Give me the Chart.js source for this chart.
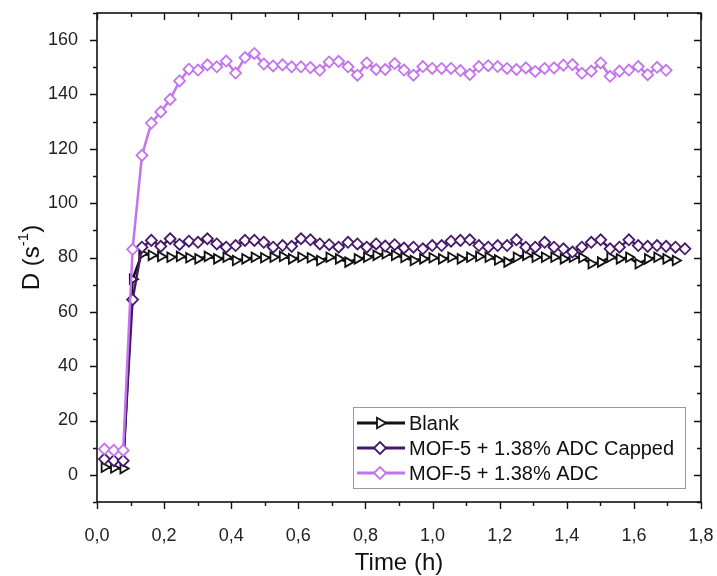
<!DOCTYPE html>
<html><head><meta charset="utf-8">
<script src="https://cdn.jsdelivr.net/npm/chart.js@4.4.1/dist/chart.umd.min.js"></script>
<style>html,body{margin:0;padding:0;background:#fff;}#wrap{width:717px;height:576px;}</style>
</head><body><div id="wrap"><canvas id="c" width="717" height="576"></canvas></div>
<script>
// ---- data ----
const timeH = [0.022,0.050,0.078,0.106,0.134,0.162,0.190,0.218,0.246,0.274,0.301,0.329,0.357,0.385,0.413,0.441,0.469,0.497,0.525,0.553,0.580,0.608,0.636,0.664,0.692,0.720,0.748,0.776,0.804,0.832,0.859,0.887,0.915,0.943,0.971,0.999,1.027,1.055,1.083,1.111,1.138,1.166,1.194,1.222,1.250,1.278,1.306,1.334,1.362,1.390,1.417,1.445,1.473,1.501,1.529,1.557,1.585,1.613,1.641,1.669,1.696,1.724,1.752];
const blank = [2.8,2.5,2.3,72.0,81.4,80.8,80.4,80.1,80.4,79.9,79.5,80.4,79.5,80.1,78.9,79.5,80.1,79.9,80.1,80.4,79.5,80.1,79.9,78.9,80.1,79.5,78.3,79.5,80.1,80.8,81.4,80.8,80.0,78.9,79.5,79.9,79.5,80.1,79.5,80.1,80.4,80.1,79.1,78.3,80.1,80.8,80.1,80.1,80.1,79.5,80.1,79.9,77.7,78.3,80.1,79.5,80.1,77.7,79.5,80.1,79.5,78.9];
const capped = [5.8,5.2,5.2,64.5,83.8,86.3,84.1,86.9,84.8,86.0,85.6,86.9,85.0,83.8,84.4,86.3,86.3,85.6,83.8,84.4,84.1,86.9,86.5,85.0,84.7,83.8,85.6,85.0,83.8,85.0,84.2,84.7,83.5,83.8,83.2,84.4,84.4,86.0,86.3,86.5,84.4,83.8,84.4,84.4,86.5,83.8,83.8,85.6,83.8,83.2,82.0,83.8,85.6,86.5,83.2,83.8,86.5,84.4,84.1,84.4,84.1,83.8,83.2];
const adc = [9.5,9.0,9.0,83.0,117.6,129.5,133.6,138.2,145.0,149.3,149.0,150.9,150.2,152.3,147.9,153.6,155.1,151.2,150.5,150.9,150.2,150.2,149.9,148.9,152.0,152.2,150.2,147.1,151.6,149.2,149.2,151.4,149.0,147.1,150.3,149.6,149.6,149.6,148.8,147.4,150.3,150.6,150.3,149.6,149.2,149.8,148.5,149.6,149.8,150.8,151.0,147.8,148.6,151.6,146.7,148.6,149.0,150.3,147.3,150.0,148.9];
const seriesNames = ['Blank','MOF-5 + 1.38% ADC Capped','MOF-5 + 1.38% ADC'];
const xTitle = 'Time (h)';
const yTitleMain = 'D (s', yTitleSup = '-1', yTitleEnd = ')';

const FONT = "'Liberation Sans', Arial, Helvetica, sans-serif";
const COLORS = ['#111111', '#47196b', '#c374ee'];
const STYLES = ['triangle', 'rectRot', 'rectRot'];

function pts(vals){ return vals.map((v,i)=>({x: timeH[i], y: v})); }

function drawMarker(ctx, style, x, y, r, color){
  ctx.beginPath();
  if (style === 'triangle') {
    for (let k=0;k<3;k++){
      const a = Math.PI/2 + k*2*Math.PI/3;
      const px = x + Math.sin(a)*r, py = y - Math.cos(a)*r;
      if (k===0) ctx.moveTo(px,py); else ctx.lineTo(px,py);
    }
  } else {
    ctx.moveTo(x-r,y); ctx.lineTo(x,y-r); ctx.lineTo(x+r,y); ctx.lineTo(x,y+r);
  }
  ctx.closePath();
  ctx.fillStyle = '#fff'; ctx.fill();
  ctx.strokeStyle = color; ctx.lineWidth = 1.8; ctx.stroke();
}

const decor = {
  id: 'decor',
  afterDraw(chart){
    const {ctx, chartArea: a, scales: {x, y}} = chart;
    ctx.save();
    ctx.strokeStyle = '#111'; ctx.lineWidth = 1.6;
    ctx.strokeRect(a.left, a.top, a.right - a.left, a.bottom - a.top);
    ctx.beginPath(); ctx.lineWidth = 1.4;
    for (let i = -1; i <= 17; i++) {
      const py = Math.round(y.getPixelForValue(i*10)) + 0.5;
      const L = (i % 2 === 0) ? 7 : 4;
      ctx.moveTo(a.left, py); ctx.lineTo(a.left - L, py);
      ctx.moveTo(a.right, py); ctx.lineTo(a.right - L, py);
    }
    for (let i = 0; i <= 18; i++) {
      const px = Math.round(x.getPixelForValue(i/10)) + 0.5;
      const L = (i % 2 === 0) ? 7 : 4;
      ctx.moveTo(px, a.bottom); ctx.lineTo(px, a.bottom + L);
      ctx.moveTo(px, a.top); ctx.lineTo(px, a.top + L);
    }
    ctx.stroke();

    const mainF = '24px ' + FONT, supF = '15px ' + FONT;
    ctx.font = mainF; const w1 = ctx.measureText(yTitleMain).width; const w3 = ctx.measureText(yTitleEnd).width;
    ctx.font = supF; const w2 = ctx.measureText(yTitleSup).width;
    const tw = w1 + w2 + w3;
    ctx.translate(32, (a.top + a.bottom) / 2);
    ctx.rotate(-Math.PI/2);
    ctx.fillStyle = '#111'; ctx.textBaseline = 'middle'; ctx.textAlign = 'left';
    let cx = -tw/2;
    ctx.font = mainF; ctx.fillText(yTitleMain, cx, 0); cx += w1;
    ctx.font = supF; ctx.fillText(yTitleSup, cx, -8); cx += w2;
    ctx.font = mainF; ctx.fillText(yTitleEnd, cx, 0);
    ctx.setTransform(1,0,0,1,0,0);

    const bx = 353.5, by = 407.5, bw = 332, bh = 81;
    ctx.fillStyle = '#fff'; ctx.fillRect(bx, by, bw, bh);
    ctx.strokeStyle = '#9a9a9a'; ctx.lineWidth = 1; ctx.strokeRect(bx, by, bw, bh);
    const rows = [423, 448, 473];
    ctx.font = '20px ' + FONT; ctx.textBaseline = 'middle'; ctx.textAlign = 'left';
    for (let i = 0; i < 3; i++) {
      ctx.beginPath(); ctx.strokeStyle = COLORS[i]; ctx.lineWidth = 3;
      ctx.moveTo(357, rows[i]); ctx.lineTo(405, rows[i]); ctx.stroke();
      drawMarker(ctx, STYLES[i], 380, rows[i], 6, COLORS[i]);
      ctx.fillStyle = '#111'; ctx.fillText(seriesNames[i], 409, rows[i] + 1);
    }
    ctx.restore();
  }
};

function ds(label, vals, idx, order){
  return {
    label, data: pts(vals), order,
    borderColor: COLORS[idx], borderWidth: 2.5,
    pointStyle: STYLES[idx], pointRotation: STYLES[idx] === 'triangle' ? 90 : 0,
    pointRadius: 5.5, pointBorderWidth: 1.8,
    pointBackgroundColor: '#fff', pointBorderColor: COLORS[idx],
    tension: 0, fill: false
  };
}

new Chart(document.getElementById('c'), {
  type: 'line',
  data: { datasets: [ ds(seriesNames[0], blank, 0, 3), ds(seriesNames[1], capped, 1, 2), ds(seriesNames[2], adc, 2, 1) ] },
  options: {
    responsive: false, animation: false, devicePixelRatio: 1,
    layout: { padding: { left: 0, right: 16, top: 13, bottom: 0 } },
    plugins: { legend: { display: false }, tooltip: { enabled: false } },
    scales: {
      x: {
        type: 'linear', min: 0, max: 1.8,
        afterFit(s){ s.height = 74; s.paddingLeft = 0; s.paddingRight = 0; },
        grid: { display: false }, border: { display: false },
        ticks: { stepSize: 0.2, padding: 15, maxRotation: 0, color: '#222',
                 font: { family: FONT, size: 18 },
                 callback: v => Number(v).toFixed(1).replace('.', ',') },
        title: { display: true, text: xTitle, color: '#111', font: { family: FONT, size: 24 }, padding: { top: 0, bottom: -2 } }
      },
      y: {
        type: 'linear', min: -10, max: 170,
        afterFit(s){ s.width = 97; s.paddingTop = 0; s.paddingBottom = 0; },
        grid: { display: false }, border: { display: false },
        ticks: { stepSize: 10, padding: 11, color: '#222', font: { family: FONT, size: 18 },
                 callback: v => (v % 20 === 0 && v >= 0 && v <= 160) ? String(v) : '' }
      }
    }
  },
  plugins: [decor]
});
</script>
</body></html>
